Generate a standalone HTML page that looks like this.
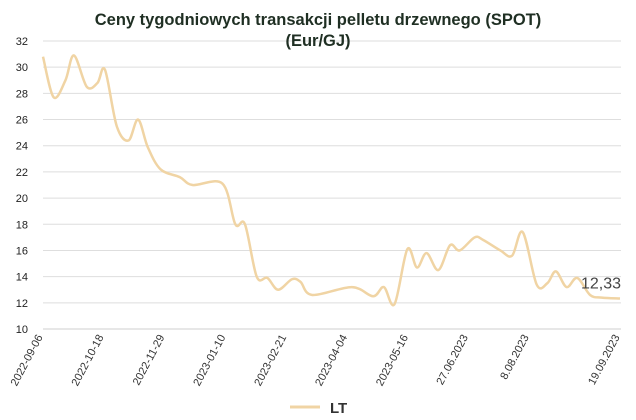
<!DOCTYPE html>
<html><head><meta charset="utf-8"><style>
body{margin:0;background:#fff;}
svg{display:block;font-family:"Liberation Sans",sans-serif;}
</style></head><body>
<svg id="c" width="636" height="420">
<g id="grid"></g><g id="yt"></g><g id="xt"></g><g id="series"></g>
<text x="318" y="25" text-anchor="middle" font-size="16.5" font-weight="bold" fill="#1f2f23">Ceny tygodniowych transakcji pelletu drzewnego (SPOT)</text>
<text x="318" y="46" text-anchor="middle" font-size="16.5" font-weight="bold" fill="#1f2f23">(Eur/GJ)</text>
<line x1="290" y1="407" x2="320" y2="407" stroke="#f0d4a4" stroke-width="3"/>
<text x="330" y="413" font-size="15" font-weight="bold" fill="#333">LT</text>
</svg>
<script>
const weeks=[0,1,2.1,2.9,4.1,5.1,5.8,6.9,8,8.9,9.8,11,12.8,14,16.8,18,18.9,20,21,22,23.3,24.1,25.2,28.9,30.9,31.9,32.9,34.1,35,35.9,37,38.1,39,40.4,41.2,42.8,43.9,44.9,46.2,47.2,48,49,50,51.2,52.3,54];
const values=[30.8,27.7,29,30.9,28.5,28.8,29.8,25.5,24.4,26,23.9,22.2,21.6,21,21.1,18,18,14,13.9,13,13.8,13.6,12.6,13.2,12.5,13.2,11.9,16.1,14.7,15.8,14.5,16.4,16,17,16.8,16,15.6,17.4,13.4,13.5,14.4,13.2,13.9,12.6,12.4,12.33];
const yTicks=[10,12,14,16,18,20,22,24,26,28,30,32];
const xTickPos=[0,5.7,11.4,17.1,22.8,28.5,34.2,39.8,45.5,54];
const xTickLabels=["2022-09-06","2022-10-18","2022-11-29","2023-01-10","2023-02-21","2023-04-04","2023-05-16","27.06.2023","8.08.2023","19.09.2023"];
const lastLabel="12,33";
const NS="http://www.w3.org/2000/svg";
const X=w=>43+w/54*577, Y=v=>329-(v-10)/22*288;
function mk(t,a,p){const e=document.createElementNS(NS,t);for(const k in a)e.setAttribute(k,a[k]);document.getElementById(p).appendChild(e);return e;}
yTicks.forEach(v=>{
 const l=mk('line',{x1:43,x2:621,y1:Y(v),y2:Y(v),stroke:v===10?'#cfcfcf':'#dedede','stroke-width':1},'grid');
 
 
 const t=mk('text',{x:28,y:Y(v)+4,'text-anchor':'end','font-size':11,fill:'#222','font-weight':'500'},'yt');t.textContent=v;
 
 
});
xTickPos.forEach((w,i)=>{
 const x=X(w),y=337;
 const t=mk('text',{x:x,y:y,'text-anchor':'end','font-size':11,fill:'#333',transform:`rotate(-62 ${x} ${y})`},'xt');t.textContent=xTickLabels[i];
 
 
});
const pts=weeks.map((w,i)=>[X(w),Y(values[i])]);
let d=`M${pts[0][0]},${pts[0][1]}`;
for(let i=0;i<pts.length-1;i++){
 const p0=pts[Math.max(0,i-1)],p1=pts[i],p2=pts[i+1],p3=pts[Math.min(pts.length-1,i+2)];
 const c1=[p1[0]+(p2[0]-p0[0])/6,p1[1]+(p2[1]-p0[1])/6],c2=[p2[0]-(p3[0]-p1[0])/6,p2[1]-(p3[1]-p1[1])/6];
 d+=` C${c1[0]},${c1[1]} ${c2[0]},${c2[1]} ${p2[0]},${p2[1]}`;
}
const path=mk('path',{d:d,fill:'none',stroke:'#f0d4a4','stroke-width':2.5,'stroke-linejoin':'round'},'series');


const lp=pts[pts.length-1];
const lt=mk('text',{x:lp[0]+1,y:lp[1]-10,'text-anchor':'end','font-size':16,fill:'#444'},'series');lt.textContent=lastLabel;


</script>
</body></html>
